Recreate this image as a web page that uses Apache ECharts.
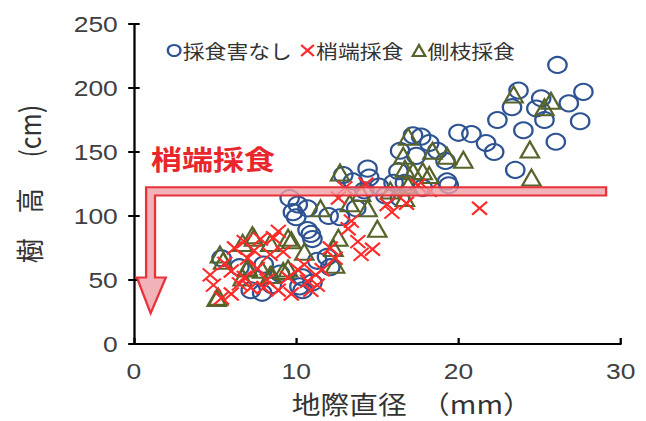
<!DOCTYPE html>
<html>
<head>
<meta charset="utf-8">
<script src="https://cdn.jsdelivr.net/npm/echarts@6/dist/echarts.min.js"></script>
<style>
html,body{margin:0;padding:0;background:#fff;overflow:hidden;}
#wrap{width:646px;height:421px;overflow:hidden;}
#chart{width:562px;height:421px;transform:scaleX(1.1495);transform-origin:0 0;}
</style>
</head>
<body>
<div id="wrap"><div id="chart"></div></div>
<script>
// ---- data ----
var seriesNames = ['採食害なし', '梢端採食', '側枝採食'];
var xTicks = [0, 10, 20, 30];
var yTicks = [0, 50, 100, 150, 200, 250];

// 採食害なし (no browsing damage): [diameter mm, height cm]
var noDamage = [
  [26.1,218],[23.7,198],[25.1,192],[27.7,197],[26.8,188],[24.8,184],[23.3,185],[22.4,175],
  [25.3,175],[27.5,174],[24.0,167],[26.0,158],[23.5,136],
  [20.0,165],[20.8,164],[21.7,157],[22.2,150],
  [17.2,163],[17.7,162],[18.2,157],[16.4,151],[18.7,151],[17.4,147],[19.2,143],[16.3,135],
  [19.3,127],[16.0,126],[16.7,126],[17.8,122],[15.5,116],[16.4,114],[19.4,124],
  [14.4,137],[12.9,132],[13.5,127],[14.5,130],[15.1,123],[14.2,120],[13.7,106],[12.7,99],[12.0,100],
  [9.6,114],[10.1,109],[9.8,103],[10.7,106],[10.7,89],[10.0,99],[11.0,82],[10.9,86],
  [12.1,60],[11.9,68],[10.2,45],[10.4,52],[5.4,67],[7.2,42],[7.9,40],[8.5,46],[9.0,55],
  [6.5,60],[11.3,65],[11.0,48],[8.0,62],[10.4,42]
];
// 梢端採食 (terminal shoot browsed)
var topBrowsed = [
  [21.3,106],[14.7,74],[14.0,70],[13.2,90],[13.4,96],[15.9,103],[15.6,109],[13.0,122],[12.6,114],
  [11.2,54],[10.7,49],[12.1,75],[12.4,67],[8.9,88],[8.6,83],[6.2,75],[4.9,46],[5.4,36],[6.0,39],
  [4.7,54],[6.0,57],[6.8,52],[7.6,59],[8.0,44],[8.9,42],[9.5,52],[9.7,39],[7.2,44],[8.4,70],
  [7.4,73],[10.5,62],[11.3,46],[10.9,42],[10.1,58],[17.5,124],[18.2,120],[16.8,110],[14.3,125],
  [5.6,63],[7.0,67],[9.2,72],[6.5,47],[8.2,50],[11.6,58],[13.8,80],[6.8,80],[7.8,82]
];
// 側枝採食 (side branch browsed)
var sideBrowsed = [
  [23.4,195],[25.7,190],[25.3,185],[24.4,152],[24.5,130],
  [16.9,162],[16.6,147],[18.4,151],[19.3,147],[20.3,144],[17.2,135],[17.8,135],[18.2,132],[16.7,114],
  [16.7,137],[12.7,134],[11.5,106],[15.0,90],[14.4,106],[12.6,83],[12.4,62],[9.5,83],[7.4,83],
  [5.5,65],[5.1,36],[7.0,59],[8.4,54],[9.2,57],[7.3,85],[6.7,79],[5.3,70],[8.4,79],[9.7,81],
  [7.0,60],[8.5,54],[9.5,59],[5.2,37],[6.7,52],[7.9,58],[15.8,120],[16.9,124],[14.0,118],
  [13.3,110],[10.5,72],[12.3,75]
];

// annotation arrow outline (data units: mm, cm)
var arrowShape = [[29.1,122.4],[0.75,122.4],[0.75,52],[0.18,52],[1.03,24],[1.97,52],[1.3,52],[1.3,116],[29.1,116]];
var arrowLabel = '梢端採食';
var arrowLabelPos = [1.05, 145];

var CJK = '"Noto Sans CJK JP", sans-serif';
var NUM = '"Liberation Sans", Arial, sans-serif';

var chart = echarts.init(document.getElementById('chart'), null, {renderer: 'svg'});

function scatterSeries(name, data, symbol, size, color) {
  return {
    name: name, type: 'scatter', data: data, symbol: symbol, symbolSize: size,
    itemStyle: {color: 'rgba(255,255,255,0)', borderColor: color, borderWidth: 2, opacity: 1},
    emphasis: {disabled: true}
  };
}

var option = {
  animation: false,
  backgroundColor: '#fff',
  grid: {left: 116.5, right: 22, top: 24, bottom: 73, containLabel: false},
  legend: {
    data: seriesNames, left: 140, top: 36, itemWidth: 11, itemHeight: 11, itemGap: 7,
    textStyle: {fontSize: 19, color: '#333', fontFamily: CJK, padding: [0, 0, 0, -3]}
  },
  xAxis: {
    type: 'value', min: xTicks[0], max: xTicks[xTicks.length - 1], interval: 10,
    name: '地際直径　（mm）', nameLocation: 'middle', nameGap: 47,
    nameTextStyle: {fontSize: 25, color: '#333', fontFamily: CJK, padding: [0, 0, 0, 60]},
    axisLine: {lineStyle: {color: '#000', width: 2}},
    axisTick: {inside: true, length: 6, lineStyle: {color: '#000', width: 2}},
    axisLabel: {fontSize: 23, color: '#404040', fontFamily: NUM, margin: 16},
    splitLine: {show: false}
  },
  yAxis: [{
    type: 'value', min: yTicks[0], max: yTicks[yTicks.length - 1], interval: 50,
    name: '樹　高　 (cm)', nameLocation: 'middle', nameRotate: 90, nameGap: 79,
    nameTextStyle: {fontSize: 25, color: '#333', fontFamily: CJK},
    axisLine: {lineStyle: {color: '#000', width: 2}},
    axisTick: {inside: false, length: 5, lineStyle: {color: '#000', width: 2}},
    axisLabel: {fontSize: 23, color: '#404040', fontFamily: NUM, margin: 14},
    splitLine: {show: false}
  }, {
    type: 'value', position: 'left', min: yTicks[0], max: yTicks[yTicks.length - 1], interval: 50,
    axisLine: {show: false},
    axisTick: {inside: true, length: 5, lineStyle: {color: '#000', width: 2}},
    axisLabel: {show: false}, splitLine: {show: false}
  }],
  series: [
    scatterSeries(seriesNames[0], noDamage, 'circle', 16, '#2e5392'),
    scatterSeries(seriesNames[2], sideBrowsed, 'triangle', 16, '#56632a'),
    scatterSeries(seriesNames[1], topBrowsed, 'path://M0,0L10,10M10,0L0,10', 13, '#ff2a2a'),
    {
      type: 'custom', silent: true, z: 10, clip: false, data: [0],
      renderItem: function (params, api) {
        var pts = arrowShape.map(function (p) { return api.coord(p); });
        var lp = api.coord(arrowLabelPos);
        return {
          type: 'group',
          children: [
            {type: 'polygon', shape: {points: pts},
             style: {fill: 'rgba(238,160,166,0.8)', stroke: '#e8323a', lineWidth: 2}},
            {type: 'text', style: {text: arrowLabel, x: lp[0], y: lp[1], fill: '#e8262c',
              font: 'bold 27px ' + CJK, verticalAlign: 'middle', align: 'left'}}
          ]
        };
      }
    }
  ]
};
chart.setOption(option);
</script>
</body>
</html>
